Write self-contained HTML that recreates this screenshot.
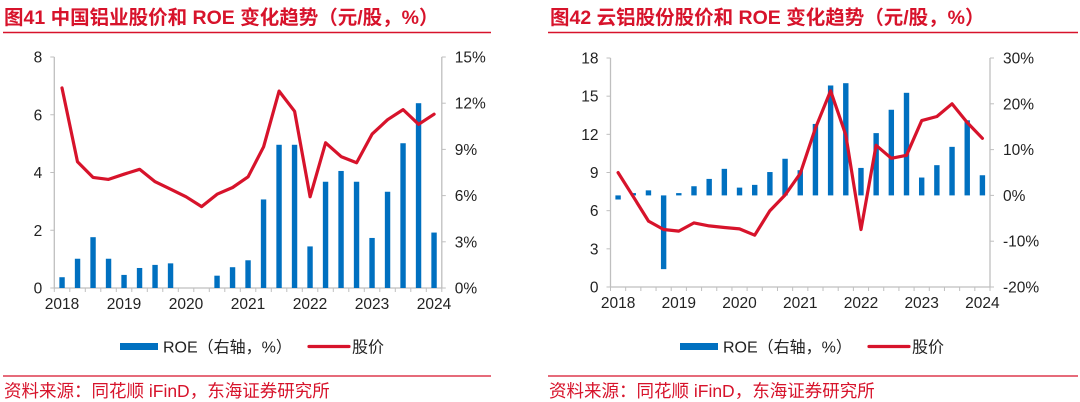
<!DOCTYPE html>
<html><head><meta charset="utf-8"><style>
html,body{margin:0;padding:0;background:#fff;}
svg{display:block;font-family:"Liberation Sans","Noto Sans CJK SC",sans-serif;}
</style></head><body>
<svg id="s" width="1080" height="402" viewBox="0 0 1080 402" xmlns="http://www.w3.org/2000/svg">
<text x="4" y="24" font-size="19.5" font-weight="bold" fill="#d7132b">图41  中国铝业股价和 ROE 变化趋势（元/股，%）</text>
<line x1="3" y1="32.5" x2="491" y2="32.5" stroke="#d7132b" stroke-width="1.5"/>
<text x="550" y="24" font-size="19.5" font-weight="bold" fill="#d7132b">图42  云铝股份股价和 ROE 变化趋势（元/股，%）</text>
<line x1="548" y1="32.5" x2="1078" y2="32.5" stroke="#d7132b" stroke-width="1.5"/>
<line x1="3" y1="376" x2="491" y2="376" stroke="#d7132b" stroke-width="1.2"/>
<line x1="548" y1="376" x2="1078" y2="376" stroke="#d7132b" stroke-width="1.2"/>
<text x="4" y="397" font-size="17.5" fill="#d7132b">资料来源：同花顺 iFinD，东海证券研究所</text>
<text x="549" y="397" font-size="17.5" fill="#d7132b">资料来源：同花顺 iFinD，东海证券研究所</text>
<g id="c1"></g>
<g id="c2"></g>
</svg>
<script>
const years = ["2018","2019","2020","2021","2022","2023","2024"];
const roe41 = [0.7,1.9,3.3,1.9,0.85,1.3,1.5,1.6,0,0,0.8,1.35,1.8,5.75,9.3,9.3,2.7,6.9,7.6,6.9,3.25,6.25,9.4,12.0,3.6];
const price41 = [6.93,4.37,3.83,3.76,3.94,4.11,3.68,3.42,3.16,2.82,3.25,3.48,3.85,4.89,6.82,6.12,3.16,5.03,4.55,4.34,5.33,5.83,6.18,5.67,6.02];
const leftTicks41 = [0,2,4,6,8];
const rightTicks41 = [0,3,6,9,12,15];
const roe42 = [-0.9,0.5,1.1,-16.1,0.5,2.0,3.6,5.8,1.7,2.3,5.1,8.0,5.5,15.6,24.0,24.5,6.0,13.6,18.7,22.4,3.9,6.6,10.6,16.4,4.4];
const price42 = [8.99,7.1,5.18,4.52,4.39,5.04,4.8,4.68,4.57,4.07,6.0,7.23,8.93,12.48,15.42,11.95,4.52,11.14,10.12,10.35,13.08,13.4,14.4,12.93,11.69];
const leftTicks42 = [0,3,6,9,12,15,18];
const rightTicks42 = [-20,-10,0,10,20,30];

const NS="http://www.w3.org/2000/svg";
function mk(parent,tag,attrs,txt){const e=document.createElementNS(NS,tag);for(const k in attrs)e.setAttribute(k,attrs[k]);if(txt!==undefined)e.textContent=txt;parent.appendChild(e);return e;}

function draw(gid,cfg,roe,price,lt,rt){
  const g=document.getElementById(gid);
  const n=roe.length;
  const step=(cfg.x1-cfg.x0)/n;
  const cx=i=>cfg.x0+step*(i+0.5);
  const yL=v=>cfg.yb-(v-lt[0])/(lt[lt.length-1]-lt[0])*(cfg.yb-cfg.yt);
  const yR=v=>cfg.yb-(v-rt[0])/(rt[rt.length-1]-rt[0])*(cfg.yb-cfg.yt);
  const la=mk(g,'line',{x1:cfg.x0,y1:cfg.yt,x2:cfg.x0,y2:cfg.yb,stroke:'#bfbfbf','stroke-width':1.3});
  
  
  const ra=mk(g,'line',{x1:cfg.x1,y1:cfg.yt,x2:cfg.x1,y2:cfg.yb,stroke:'#bfbfbf','stroke-width':1.3});
  
  
  const ba=mk(g,'line',{x1:cfg.x0,y1:cfg.yb,x2:cfg.x1,y2:cfg.yb,stroke:'#bfbfbf','stroke-width':1.3});
  
  
  for(let i=0;i<=n;i++){const x=cfg.x0+step*i;const t=mk(g,'line',{x1:x,y1:cfg.yb,x2:x,y2:cfg.yb+4,stroke:'#bfbfbf','stroke-width':1});
    
    }
  lt.forEach(v=>{const y=yL(v);mk(g,'line',{x1:cfg.x0-4,y1:y,x2:cfg.x0,y2:y,stroke:'#bfbfbf'});
    const t=mk(g,'text',{x:cfg.x0-12,y:y+5.5,'font-size':15.5,'text-anchor':'end',fill:'#222'},String(v));
    
    });
  rt.forEach(v=>{const y=yR(v);mk(g,'line',{x1:cfg.x1,y1:y,x2:cfg.x1+4,y2:y,stroke:'#bfbfbf'});
    const t=mk(g,'text',{x:cfg.x1+13,y:y+5.5,'font-size':15.5,fill:'#222'},v+'%');
    
    });
  years.forEach((yr,k)=>{const t=mk(g,'text',{x:cx(k*4),y:cfg.yb+21,'font-size':15.5,'text-anchor':'middle',fill:'#222'},yr);
    
    });
  const base=yR(0);
  roe.forEach((v,i)=>{if(v===0)return;const y=yR(v);
    const b=mk(g,'rect',{x:cx(i)-2.7,y:Math.min(y,base),width:5.4,height:Math.abs(base-y),fill:'#0070c0'});
    
    });
  const pts=price.map((v,i)=>cx(i).toFixed(1)+','+yL(v).toFixed(1)).join(' ');
  const pl=mk(g,'polyline',{points:pts,fill:'none',stroke:'#d7132b','stroke-width':3.2,'stroke-linejoin':'round','stroke-linecap':'round'});
  
  
  const lb=mk(g,'rect',{x:cfg.lg,y:343,width:38,height:7,fill:'#0070c0'});
  
  
  const l1=mk(g,'text',{x:cfg.lg+43,y:352.5,'font-size':16,fill:'#222'},'ROE（右轴，%）');
  
  
  const lr=mk(g,'line',{x1:cfg.lg+189,y1:346.5,x2:cfg.lg+229,y2:346.5,stroke:'#d7132b','stroke-width':3.2,'stroke-linecap':'round'});
  
  
  const l2=mk(g,'text',{x:cfg.lg+232,y:352.5,'font-size':16,fill:'#222'},'股价');
  
  
}
draw('c1',{x0:54.3,x1:441.8,yt:57,yb:288,lg:120},roe41,price41,leftTicks41,rightTicks41);
draw('c2',{x0:610.5,x1:990,yt:58,yb:287,lg:680},roe42,price42,leftTicks42,rightTicks42);
</script>
</body></html>
